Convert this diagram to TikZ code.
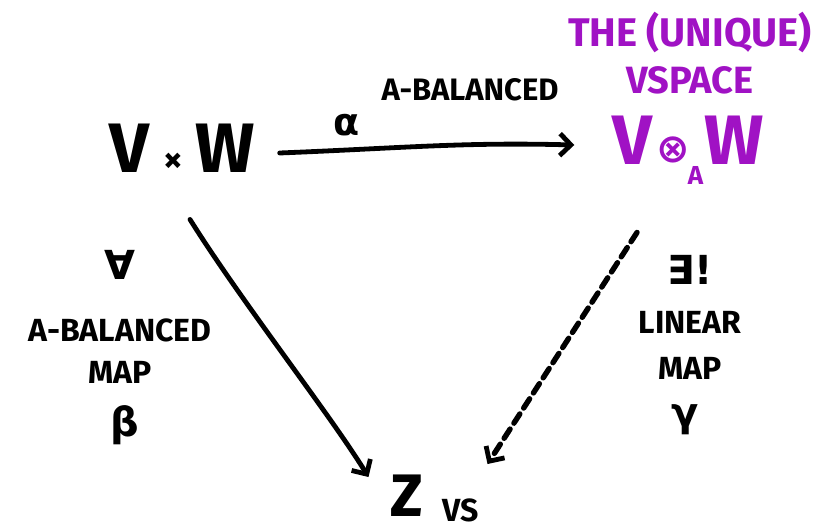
\documentclass[tikz,border=0pt]{standalone}
\usepackage{fontspec}
\setmainfont{Fira Sans}
\newfontfamily\dv{DejaVu Sans}
\usetikzlibrary{arrows.meta,calc}
\definecolor{vpurple}{RGB}{160,18,196}
\tikzset{
  fs/.style={font=\fontsize{#1}{#1}\selectfont\bfseries},
  big/.style={fs=70, inner sep=0pt},
  lbl/.style={inner sep=0pt, align=center},
  pen/.style={line width=4.8pt, line cap=round, -{Straight Barb[length=11pt,width=22pt,line width=4.8pt]}},
}
\begin{document}
\begin{tikzpicture}[x=1pt,y=-1pt]
\useasboundingbox (0,0) rectangle (819,532);
% nodes
\node[big] (vw) at (182,148) {V\kern14pt{\fontsize{38}{38}\selectfont ×}\kern12pt W};
\node[big, text=vpurple] (vt) at (688,150) {V\kern4pt\raisebox{2pt}{\dv\fontsize{40}{40}\selectfont ⊗}\kern-2pt\raisebox{-20pt}{\fontsize{26}{26}\selectfont A}\kern1pt W};
\node[lbl, text=vpurple, fs=40] (the) at (690,33) {THE (UNIQUE)};
\node[lbl, text=vpurple, fs=38] (vsp) at (690,80) {VSPACE};
\node[big, fs=60] (z) at (407,496) {Z};
\node[lbl, fs=32] (vs) at (461,510) {VS};
\node[lbl, fs=38] (alpha) at (347,125) {\dv α};
\node[lbl, fs=31] (ab1) at (470,90) {A-BALANCED};
% left label
\node[lbl, fs=40] (forall) at (120,265) {\dv ∀};
\node[lbl, fs=32] (ab2) at (120,330) {A-BALANCED};
\node[lbl, fs=32] (map1) at (120,372) {MAP};
\node[lbl, fs=40] (beta) at (125,425) {\dv β};
% right label
\node[lbl, fs=40] (exists) at (690,270) {\dv ∃!};
\node[lbl, fs=32] (lin) at (690,322) {LINEAR};
\node[lbl, fs=32] (map2) at (690,368) {MAP};
\node[lbl, fs=40] (gamma) at (685,420) {\dv γ};
% connectors
\draw[pen] ($(vw.east)+(25,5)$) .. controls ($(vw.east)+(150,0)$) and ($(vt.west)+(-150,-8)$) .. ($(vt.west)+(-38,-5)$);
\draw[pen] ($(vw.south)+(8,47)$) .. controls ($(vw.south)+(60,130)$) and ($(z.north west)+(-60,-60)$) .. ($(z.north west)+(-22,2)$);
\draw[pen, line width=5.4pt, dash pattern=on 11pt off 7pt] ($(vt.south)+(-51,48)$) -- ($(z.north east)+(64,-11)$);
\end{tikzpicture}
\end{document}
